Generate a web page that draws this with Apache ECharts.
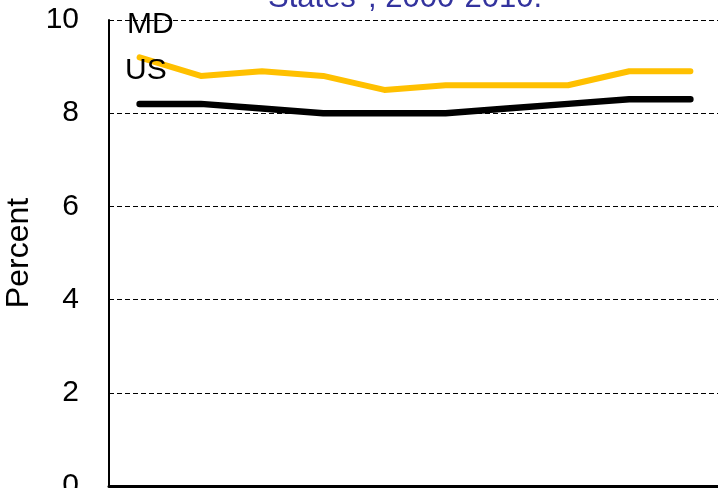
<!DOCTYPE html>
<html>
<head>
<meta charset="utf-8">
<script src="https://cdn.jsdelivr.net/npm/echarts@6/dist/echarts.min.js"></script>
<style>html,body{margin:0;padding:0;background:#fff;overflow:hidden;}#c{width:718px;height:488px;}</style>
</head>
<body>
<div id="c"></div>
<script>
const years = ['2000','2001','2002','2003','2004','2005','2006','2007','2008','2009'];
const mdValues = [9.2, 8.8, 8.9, 8.8, 8.5, 8.6, 8.6, 8.6, 8.9, 8.9];
const usValues = [8.2, 8.2, 8.1, 8.0, 8.0, 8.0, 8.1, 8.2, 8.3, 8.3];
const yTicks = [0, 2, 4, 6, 8, 10];
const titleText = 'States*, 2000-2010.';
const seriesNames = ['MD', 'US'];

const chart = echarts.init(document.getElementById('c'), null, {renderer: 'canvas'});
const font = 'Liberation Sans, Arial, sans-serif';
chart.setOption({
  animation: false,
  backgroundColor: '#fff',
  grid: {left: 109, right: -3, top: 20, bottom: 2, containLabel: false, outerBoundsMode: 'none'},
  xAxis: {
    type: 'category',
    data: years,
    boundaryGap: true,
    axisLine: {show: true, lineStyle: {color: '#000', width: 3}},
    axisTick: {show: true, inside: false, length: 6, lineStyle: {color: '#000', width: 1}},
    axisLabel: {show: false},
    splitLine: {show: false}
  },
  yAxis: {
    type: 'value',
    min: yTicks[0],
    max: yTicks[yTicks.length - 1],
    interval: 2,
    name: 'Percent',
    nameLocation: 'middle',
    nameGap: 64,
    nameRotate: 90,
    nameTextStyle: {fontFamily: font, fontSize: 32, color: '#000'},
    axisLine: {show: true, lineStyle: {color: '#000', width: 2}},
    axisTick: {show: false},
    axisLabel: {fontFamily: font, fontSize: 30, color: '#000', margin: 30},
    splitLine: {show: true, lineStyle: {color: '#000', type: [5, 3], width: 1}}
  },
  series: [
    {
      name: seriesNames[0], type: 'line', data: mdValues, symbol: 'none',
      lineStyle: {color: '#FFC000', width: 6, cap: 'round', join: 'round'}, z: 3
    },
    {
      name: seriesNames[1], type: 'line', data: usValues, symbol: 'none',
      lineStyle: {color: '#000', width: 6.5, cap: 'round', join: 'round'}, z: 4
    }
  ],
  graphic: [
    {type: 'text', left: 127, top: 10, z: 10, style: {text: seriesNames[0], fontFamily: font, fontSize: 30, fill: '#000'}},
    {type: 'text', left: 125, top: 56, z: 10, style: {text: seriesNames[1], fontFamily: font, fontSize: 30, fill: '#000'}},
    {type: 'text', x: 405, y: 14, z: 10, style: {text: titleText, fontFamily: font, fontSize: 31, fill: '#33339E', align: 'center', verticalAlign: 'bottom'}}
  ]
});
</script>
</body>
</html>
